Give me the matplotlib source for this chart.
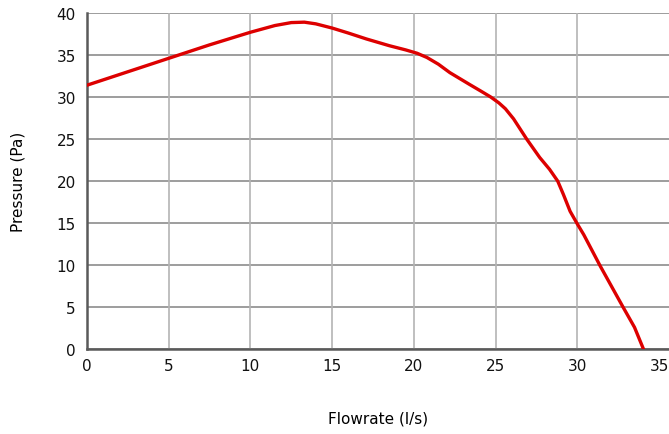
import numpy as np
import matplotlib.pyplot as plt

# values
flowrate = [0, 2.5, 5, 7.5, 10, 11.5, 12.5, 13.3, 14, 15, 16, 17.1, 18.5, 19.5, 20.2, 20.8, 21.5, 22.2, 23.4, 24.1, 24.7, 25.2, 25.6, 26.1, 26.9, 27.7, 28.3, 28.8, 29.15, 29.56, 30, 30.4, 31.4, 32.8, 33.5, 34.05]
pressure = [31.4, 33.0, 34.6, 36.2, 37.7, 38.5, 38.85, 38.9, 38.7, 38.2, 37.6, 36.9, 36.1, 35.6, 35.2, 34.7, 33.9, 32.9, 31.5, 30.7, 30.0, 29.3, 28.6, 27.4, 25.0, 22.8, 21.4, 20.0, 18.4, 16.4, 14.9, 13.6, 9.9, 5.0, 2.6, 0]

xticks = [0, 5, 10, 15, 20, 25, 30, 35]
yticks = [0, 5, 10, 15, 20, 25, 30, 35, 40]

fig = plt.figure(figsize=(6.69, 4.35), dpi=100)
ax = fig.add_axes([0.130, 0.195, 0.870, 0.773])

ax.plot(flowrate, pressure, color='#dd0000', lw=2.4, solid_joinstyle='round', zorder=3)

ax.set_xlim(0, 35.61)
ax.set_ylim(0, 40)
ax.set_xticks(xticks)
ax.set_yticks(yticks)

# vertical grid only up to 30, no line at 35
for xv in xticks[1:-1]:
	ax.axvline(xv, color='#b4b4b4', lw=1.2, zorder=1)
ax.yaxis.grid(True, color='#8c8c8c', lw=1.2)
ax.set_axisbelow(True)

for s in ['top', 'right']:
	ax.spines[s].set_visible(False)
for s in ['left', 'bottom']:
	ax.spines[s].set_color('#5a5a5a')
	ax.spines[s].set_linewidth(1.8)

ax.tick_params(length=0, labelsize=11, colors='#111111')
ax.tick_params(axis='x', pad=6)
ax.tick_params(axis='y', pad=8)

ax.set_xlabel('Flowrate (l/s)', fontsize=11, labelpad=27)
ax.set_ylabel('Pressure (Pa)', fontsize=11, labelpad=22)

fig.savefig('out.png', dpi=100)
